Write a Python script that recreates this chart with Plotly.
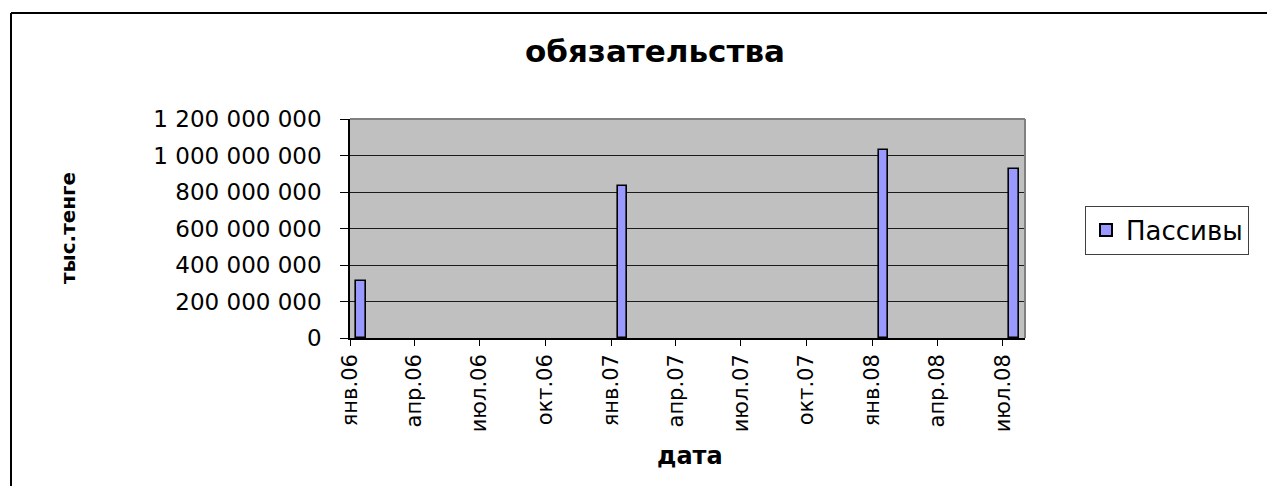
import plotly.graph_objects as go

# Data
dates = ["2006-01-01", "2007-01-01", "2008-01-01", "2008-07-01"]
values = [310_000_000, 835_000_000, 1_030_000_000, 925_000_000]
series_name = "Пассивы"

tick_dates = ["2006-01-01", "2006-04-01", "2006-07-01", "2006-10-01",
              "2007-01-01", "2007-04-01", "2007-07-01", "2007-10-01",
              "2008-01-01", "2008-04-01", "2008-07-01"]
tick_labels = ["янв.06", "апр.06", "июл.06", "окт.06",
               "янв.07", "апр.07", "июл.07", "окт.07",
               "янв.08", "апр.08", "июл.08"]
y_ticks = [0, 200_000_000, 400_000_000, 600_000_000, 800_000_000,
           1_000_000_000, 1_200_000_000]

OFF = 8  # default page body margin
W, H = 1275 - OFF, 486 - OFF
L, R, T, B = 350 - OFF, 1025 - OFF, 119 - OFF, 338 - OFF
FONT = "DejaVu Sans, Arial, sans-serif"

fig = go.Figure()
fig.add_trace(go.Bar(
    x=dates, y=values, name=series_name,
    xperiod="M1", xperiodalignment="middle",
    width=13.3 * 86400000,
    marker=dict(color="#9999FF", line=dict(color="black", width=1.6)),
    showlegend=True,
))

def px_x(p):
    return (p - OFF - L) / (R - L)

def px_y(p):
    return (B - (p - OFF)) / (B - T)

fig.update_layout(
    width=W, height=H,
    margin=dict(l=L, r=W - R, t=T, b=H - B, pad=0),
    paper_bgcolor="white",
    plot_bgcolor="#C0C0C0",
    separators=", ",
    font=dict(family=FONT, color="black"),
    title=dict(text="<b>обязательства</b>", xref="container", yref="container",
               x=(655 - OFF) / W, y=1 - (51 - OFF) / H, xanchor="center", yanchor="middle",
               font=dict(size=31, family=FONT, color="black")),
    bargap=0,
    legend=dict(x=px_x(1085), y=px_y(230), xanchor="left", yanchor="middle",
                bordercolor="#404040", borderwidth=1, bgcolor="white",
                font=dict(size=26, family=FONT),
                itemsizing="constant", tracegroupgap=0),
)

fig.update_xaxes(
    type="date",
    range=["2006-01-01", "2008-08-01"],
    tickmode="array", tickvals=tick_dates, ticktext=tick_labels,
    tickangle=-90,
    ticks="outside", ticklen=6, tickcolor="black", tickwidth=1,
    tickfont=dict(size=21, family=FONT),
    showgrid=False, zeroline=False,
    showline=True, linecolor="black", linewidth=1.5,
)

fig.update_yaxes(
    range=[0, 1_200_000_000],
    tickmode="array", tickvals=y_ticks,
    tickformat=",d",
    ticks="outside", ticklen=8, tickcolor="black", tickwidth=1,
    tickfont=dict(size=23, family=FONT),
    ticklabelstandoff=14,
    showgrid=True, gridcolor="#1a1a1a", gridwidth=1,
    zeroline=False,
    showline=True, linecolor="black", linewidth=1.5,
)

# axis titles
fig.add_annotation(text="<b>дата</b>", xref="paper", yref="paper",
                   x=px_x(690), y=px_y(456), xanchor="center", yanchor="middle",
                   showarrow=False, font=dict(size=24, family=FONT))
fig.add_annotation(text="<b>тыс.тенге</b>", xref="paper", yref="paper",
                   x=px_x(68), y=px_y(228), xanchor="center", yanchor="middle",
                   textangle=-90, showarrow=False, font=dict(size=20, family=FONT))

# plot area grey border (top and right)
fig.add_shape(type="line", xref="paper", yref="paper", x0=0, x1=1, y0=1, y1=1,
              line=dict(color="#808080", width=2), layer="above")
fig.add_shape(type="line", xref="paper", yref="paper", x0=1, x1=1, y0=0, y1=1,
              line=dict(color="#808080", width=2), layer="above")

# outer chart border: only left and top edges are inside the view
fig.add_shape(type="line", xref="paper", yref="paper",
              x0=px_x(11), x1=px_x(11), y0=px_y(486), y1=px_y(13),
              line=dict(color="black", width=2), layer="above")
fig.add_shape(type="line", xref="paper", yref="paper",
              x0=px_x(11), x1=px_x(1275), y0=px_y(13), y1=px_y(13),
              line=dict(color="black", width=2), layer="above")

fig.write_html(
    "out.html",
    post_script="document.documentElement.style.overflow='hidden';"
                "document.body.style.overflow='hidden';",
)
